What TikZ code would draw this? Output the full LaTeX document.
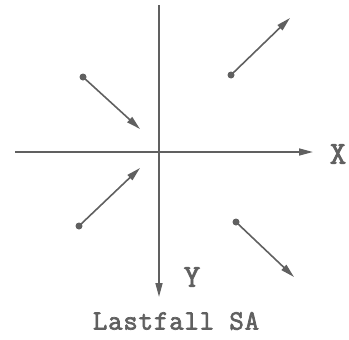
\documentclass[tikz,border=0pt]{standalone}
\usepackage{fontspec}
\newfontfamily\plotfont{Latin Modern Mono}[FakeBold=2.5]
\newfontfamily\plotspaced{Latin Modern Mono}[FakeBold=2.5, LetterSpace=3]
\usepackage{tikz}
\usetikzlibrary{arrows.meta}
\definecolor{pengray}{RGB}{96,96,96}
\tikzset{
    axis/.style={draw=pengray, line width=1.6pt, -{Triangle[length=14pt, width=7pt]}},
    load/.style={draw=pengray, line width=1.6pt, -{Triangle[length=14pt, width=7pt]}},
    tail/.style={circle, fill=pengray, inner sep=0pt, minimum size=7pt},
    axislabel/.style={text=pengray, font=\plotfont\fontsize{32}{32}\selectfont},
    caption/.style={text=pengray, font=\plotspaced\fontsize{28}{28}\selectfont}
}
\begin{document}
\begin{tikzpicture}[x=1pt, y=-1pt]
    \useasboundingbox (0,0) rectangle (349,340);

    % Axes
    \coordinate (xs) at (15,152);
    \coordinate (xe) at (313,152);
    \coordinate (ys) at (159,5);
    \coordinate (ye) at (159,297);
    \draw[axis] (xs) -- (xe);
    \draw[axis] (ys) -- (ye);
    \node[axislabel] (xl) at (338,154) {X};
    \node[axislabel] (yl) at (192,277) {Y};

    % Load vectors
    \foreach \n/\a/\b/\c/\d in {tl/83/77/140/129, tr/231/75/290/18,
                                bl/79/226/140/168, br/236/222/294/277} {
        \node[tail] (p\n) at (\a,\b) {};
        \coordinate (q\n) at (\c,\d);
        \draw[load] (p\n.center) -- (q\n);
    }

    \node[caption] (title) at (176,321) {Lastfall SA};
\end{tikzpicture}
\end{document}
